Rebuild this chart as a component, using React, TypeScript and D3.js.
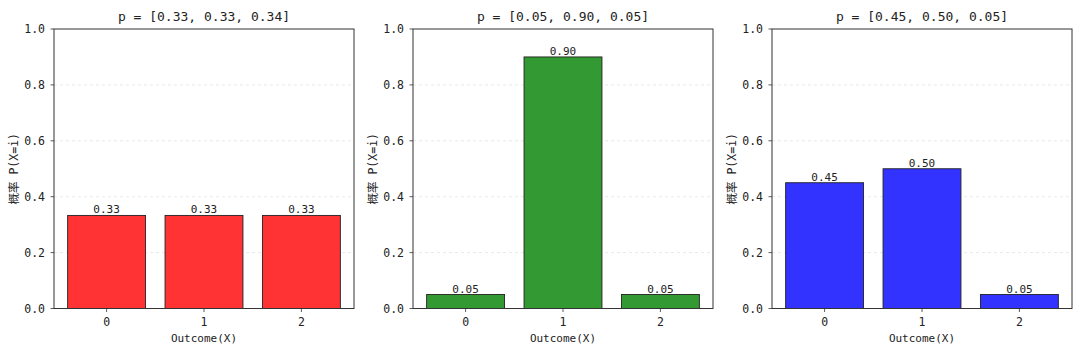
import * as d3 from 'd3';

const outcomes = [0, 1, 2];
const titles = ['p = [0.33, 0.33, 0.34]', 'p = [0.05, 0.90, 0.05]', 'p = [0.45, 0.50, 0.05]'];
const probsUniform = [0.333, 0.333, 0.333];
const probsPeaked = [0.05, 0.9, 0.05];
const probsSkewed = [0.45, 0.5, 0.05];
const barColors = ['#ff3333', '#339933', '#3333ff'];
const yTicks = [0, 0.2, 0.4, 0.6, 0.8, 1.0];

const panels = [
  { title: titles[0], values: probsUniform, color: barColors[0] },
  { title: titles[1], values: probsPeaked, color: barColors[1] },
  { title: titles[2], values: probsSkewed, color: barColors[2] },
];

const W = 1080;
const H = 354;
const FONT = '"DejaVu Sans Mono", "Noto Sans CJK SC", monospace';
const axesLeft = [54, 413, 772];
const axesW = 300;
const top = 29;
const bottom = 308.5;

function Panel({ idx }: { idx: number }) {
  const p = panels[idx];
  const x0 = axesLeft[idx];
  const x = d3.scaleLinear().domain([-0.54, 2.54]).range([x0, x0 + axesW]);
  const y = d3.scaleLinear().domain([0, 1]).range([bottom, top]);
  const bw = x(0.4) - x(-0.4);

  return (
    <g>
      {/* grid */}
      {yTicks.slice(1, -1).map(t => (
        <line key={t} x1={x0} x2={x0 + axesW} y1={y(t)} y2={y(t)}
          stroke="#b0b0b0" strokeOpacity={0.35} strokeDasharray="3,3" strokeWidth={0.8} />
      ))}
      {/* bars */}
      {outcomes.map((o, i) => (
        <g key={o}>
          <rect x={x(o) - bw / 2} y={y(p.values[i])} width={bw} height={y(0) - y(p.values[i])}
            fill={p.color} stroke="#222" strokeWidth={0.9} />
          <text x={x(o)} y={y(p.values[i]) - 2} textAnchor="middle" fontSize={11} fill="#222">
            {p.values[i].toFixed(2)}
          </text>
        </g>
      ))}
      {/* spines */}
      <rect x={x0} y={top} width={axesW} height={bottom - top} fill="none" stroke="#333" strokeWidth={1} />
      {/* y ticks */}
      {yTicks.map(t => (
        <g key={t}>
          <line x1={x0 - 3.5} x2={x0} y1={y(t)} y2={y(t)} stroke="#333" strokeWidth={0.8} />
          <text x={x0 - 9} y={y(t)} dy="0.35em" textAnchor="end" fontSize={11.5} fill="#222">
            {t.toFixed(1)}
          </text>
        </g>
      ))}
      {/* x ticks */}
      {outcomes.map(o => (
        <g key={o}>
          <line x1={x(o)} x2={x(o)} y1={bottom} y2={bottom + 3.5} stroke="#333" strokeWidth={0.8} />
          <text x={x(o)} y={bottom + 17} textAnchor="middle" fontSize={11.5} fill="#222">{o}</text>
        </g>
      ))}
      <text x={x0 + axesW / 2} y={342} textAnchor="middle" fontSize={11} fill="#222">Outcome(X)</text>
      <text transform={`translate(${x0 - 36},${(top + bottom) / 2}) rotate(-90)`} textAnchor="middle"
        fontSize={11.5} fill="#222">概率 P(X=i)</text>
      <text x={x0 + axesW / 2} y={21} textAnchor="middle" fontSize={13} fill="#222">{p.title}</text>
    </g>
  );
}

export default function App() {
  return (
    <svg width={W} height={H} style={{ position: 'absolute', left: 0, top: 0, background: '#fff' }}
      fontFamily={FONT}>
      <rect width={W} height={H} fill="#fff" />
      {panels.map((_, i) => <Panel key={i} idx={i} />)}
    </svg>
  );
}
